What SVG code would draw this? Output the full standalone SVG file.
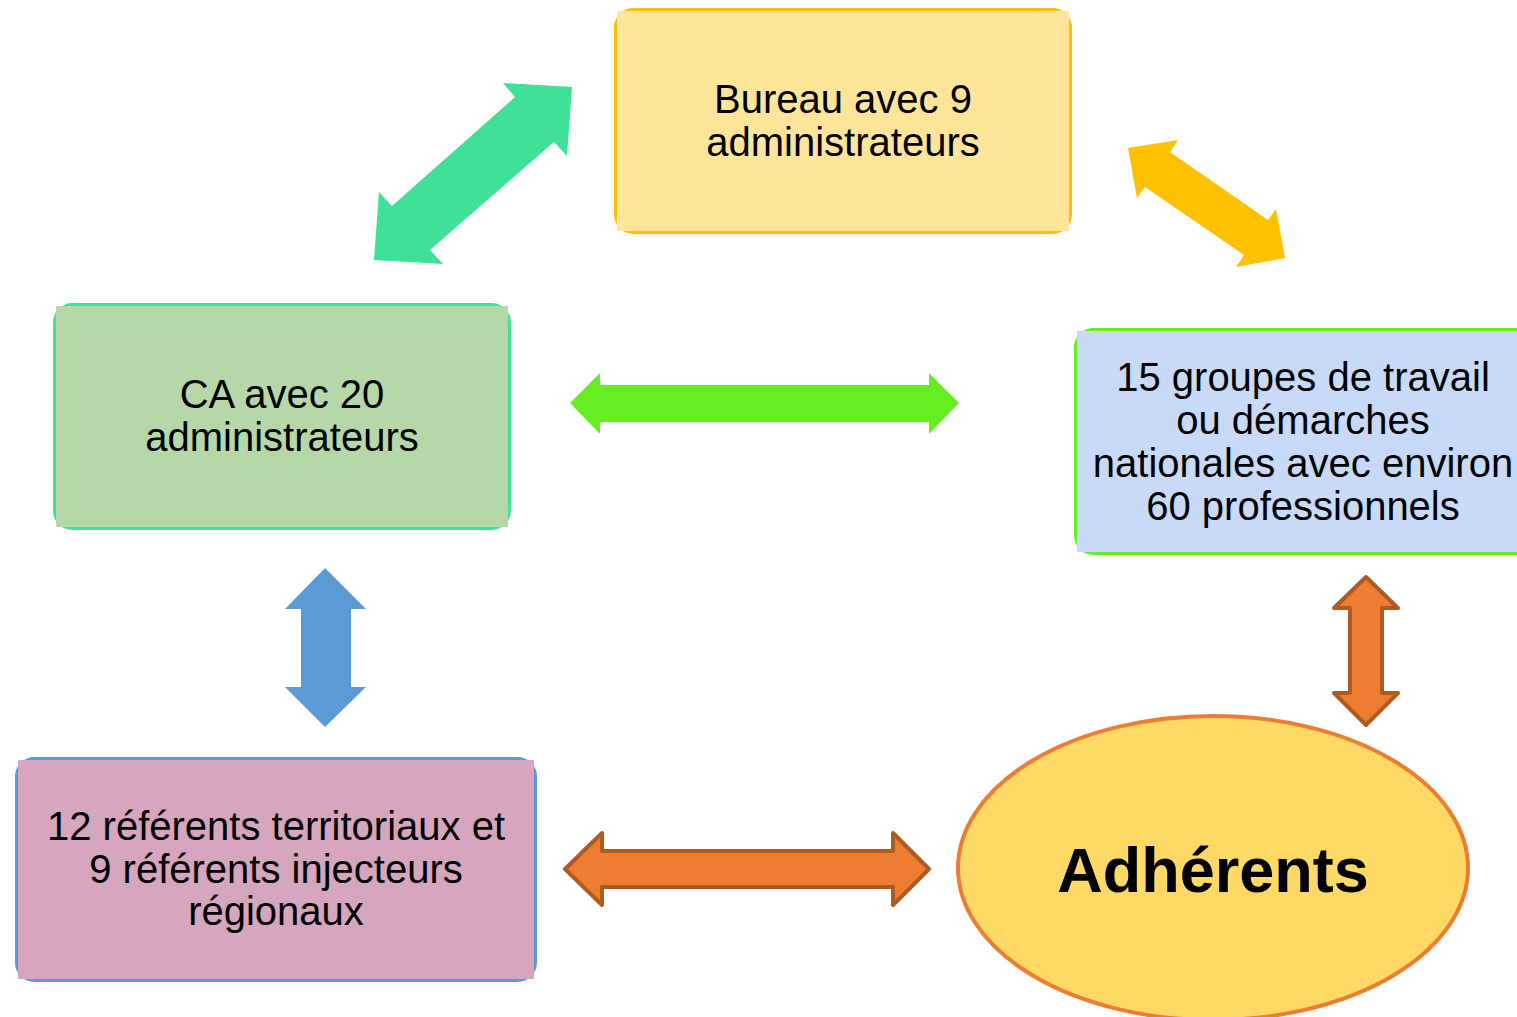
<svg xmlns="http://www.w3.org/2000/svg" width="1517" height="1017" viewBox="0 0 1517 1017">
<style>
.t{font-family:"Liberation Sans",Arial,sans-serif;font-size:40px;fill:#000;text-anchor:middle}
.b{stroke-width:3;fill:none}
.oa{fill:#ed7d31;stroke:#ae5a21;stroke-width:4;stroke-linejoin:round}
</style>
<rect width="1517" height="1017" fill="#fff"/>
<g id="connectors">
<polygon points="572,87 567,156 554,142 430,250 443,264 374,260 379,192 392,206 515,97 503,83" fill="#3fe199"/>
<polygon points="1128,148 1178,140 1170,152 1268,220 1276,209 1285,258 1236,267 1244,255 1145,187 1137,198" fill="#ffc000"/>
<polygon points="570,403 600,373 600,385 929,385 929,373 959,403 929,434 929,422 600,422 600,434" fill="#66ee22"/>
<polygon points="325,568 366,609 351,609 351,687 366,687 325,727 285,687 301,687 301,609 285,609" fill="#5b9bd5"/>
<polygon class="oa" points="1366,577 1398,608 1382,608 1382,693 1398,693 1366,725 1334,693 1350,693 1350,608 1334,608"/>
<polygon class="oa" points="565,869 602,833 602,851 893,851 893,833 929,869 893,905 893,887 602,887 602,905"/>
</g>
<g id="bureau">
<rect class="b" x="615.5" y="9.5" width="455" height="223" rx="18" stroke="#ffc000"/>
<rect x="617" y="11" width="452" height="220" fill="#fee599"/>
<text class="t" x="843" y="113">Bureau avec 9</text>
<text class="t" x="843" y="156">administrateurs</text>
</g>
<g id="ca">
<rect class="b" x="54.5" y="304.5" width="455" height="224" rx="18" stroke="#3fe199"/>
<rect x="56" y="306" width="452" height="221" fill="#b6d7a8"/>
<text class="t" x="282" y="408">CA avec 20</text>
<text class="t" x="282" y="451">administrateurs</text>
</g>
<g id="groupes">
<rect class="b" x="1075.5" y="329.5" width="500" height="224" rx="18" stroke="#66ee22"/>
<rect x="1077" y="331" width="500" height="221" fill="#c9daf8"/>
<text class="t" x="1303" y="391">15 groupes de travail</text>
<text class="t" x="1303" y="434">ou démarches</text>
<text class="t" x="1303" y="477">nationales avec environ</text>
<text class="t" x="1303" y="520">60 professionnels</text>
</g>
<g id="referents">
<rect class="b" x="16.5" y="758.5" width="519" height="222" rx="18" stroke="#5b9bd5"/>
<rect x="18" y="760" width="516" height="219" fill="#d5a6bd"/>
<text class="t" x="276" y="840">12 référents territoriaux et</text>
<text class="t" x="276" y="883">9 référents injecteurs</text>
<text class="t" x="276" y="925">régionaux</text>
</g>
<g id="adherents">
<ellipse cx="1213" cy="868" rx="255" ry="152" fill="#ffd966" stroke="#ed7d31" stroke-width="4"/>
<text x="1213" y="892" style="font-family:'Liberation Sans',Arial,sans-serif;font-size:63px;font-weight:bold;text-anchor:middle">Adhérents</text>
</g>
</svg>
